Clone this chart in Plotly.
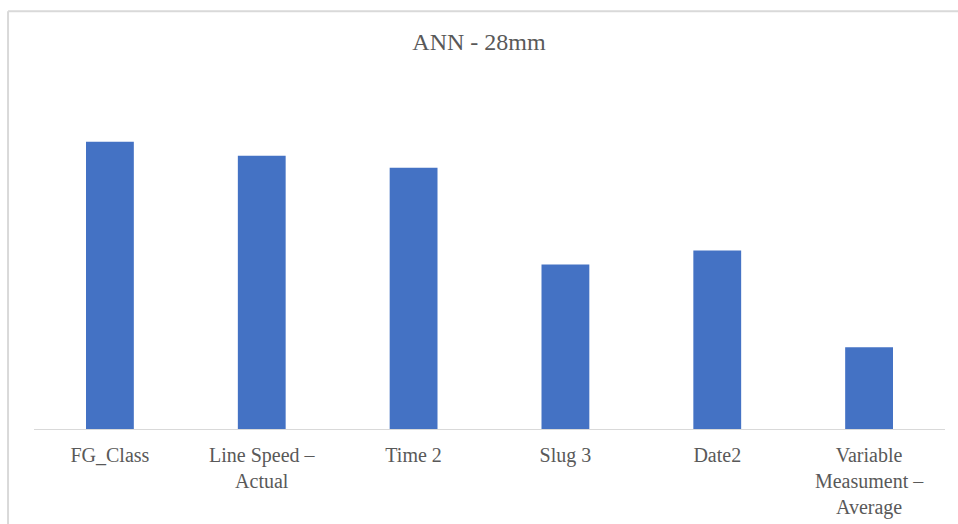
import plotly.graph_objects as go

# Feature importance for the ANN model, 28mm product
features = ["FG_Class", "Line Speed –<br>Actual", "Time 2", "Slug 3", "Date2",
            "Variable<br>Measument –<br>Average"]
importance = [0.288, 0.274, 0.262, 0.165, 0.179, 0.082]

BAR_COLOR = "#4472C4"
TEXT_COLOR = "#595959"
GRID_COLOR = "#d9d9d9"
FONT = "Liberation Serif"

W, H = 958, 524
L, R, T, B = 33.5, 12.5, 79.5, 94.5
plot_w = W - L - R
plot_h = H - T - B

fig = go.Figure(
    go.Bar(
        x=list(range(len(features))),
        y=importance,
        marker=dict(color=BAR_COLOR, line=dict(width=0)),
        width=0.315,
    )
)

# Chart-area frame (left and top edges)
fx0 = (7.5 - L) / plot_w
fy1 = (H - B - 10.5) / plot_h
frame = dict(type="line", xref="paper", yref="paper",
             line=dict(color=GRID_COLOR, width=2))

fig.update_layout(
    width=W, height=H,
    margin=dict(l=L, r=R, t=T, b=B, pad=0, autoexpand=False),
    paper_bgcolor="white",
    plot_bgcolor="white",
    showlegend=False,
    title=dict(text="ANN - 28mm", x=0.5, xref="container", xanchor="center",
               y=1 - 42 / H, yanchor="middle",
               font=dict(family=FONT, size=24, color=TEXT_COLOR)),
    font=dict(family=FONT, size=20, color=TEXT_COLOR),
    xaxis=dict(
        tickmode="array",
        tickvals=list(range(len(features))),
        ticktext=features,
        range=[-0.5, len(features) - 0.5],
        showline=True, linecolor=GRID_COLOR, linewidth=1,
        showgrid=False, zeroline=False, ticks="",
        ticklabelstandoff=8,
        automargin=False,
        tickfont=dict(family=FONT, size=20, color=TEXT_COLOR),
    ),
    yaxis=dict(range=[0, 0.35], visible=False, showgrid=False, zeroline=False),
    shapes=[
        dict(frame, x0=fx0, x1=fx0, y0=-1, y1=fy1),
        dict(frame, x0=fx0, x1=1.2, y0=fy1, y1=fy1),
    ],
)

fig.write_html("out.html")
